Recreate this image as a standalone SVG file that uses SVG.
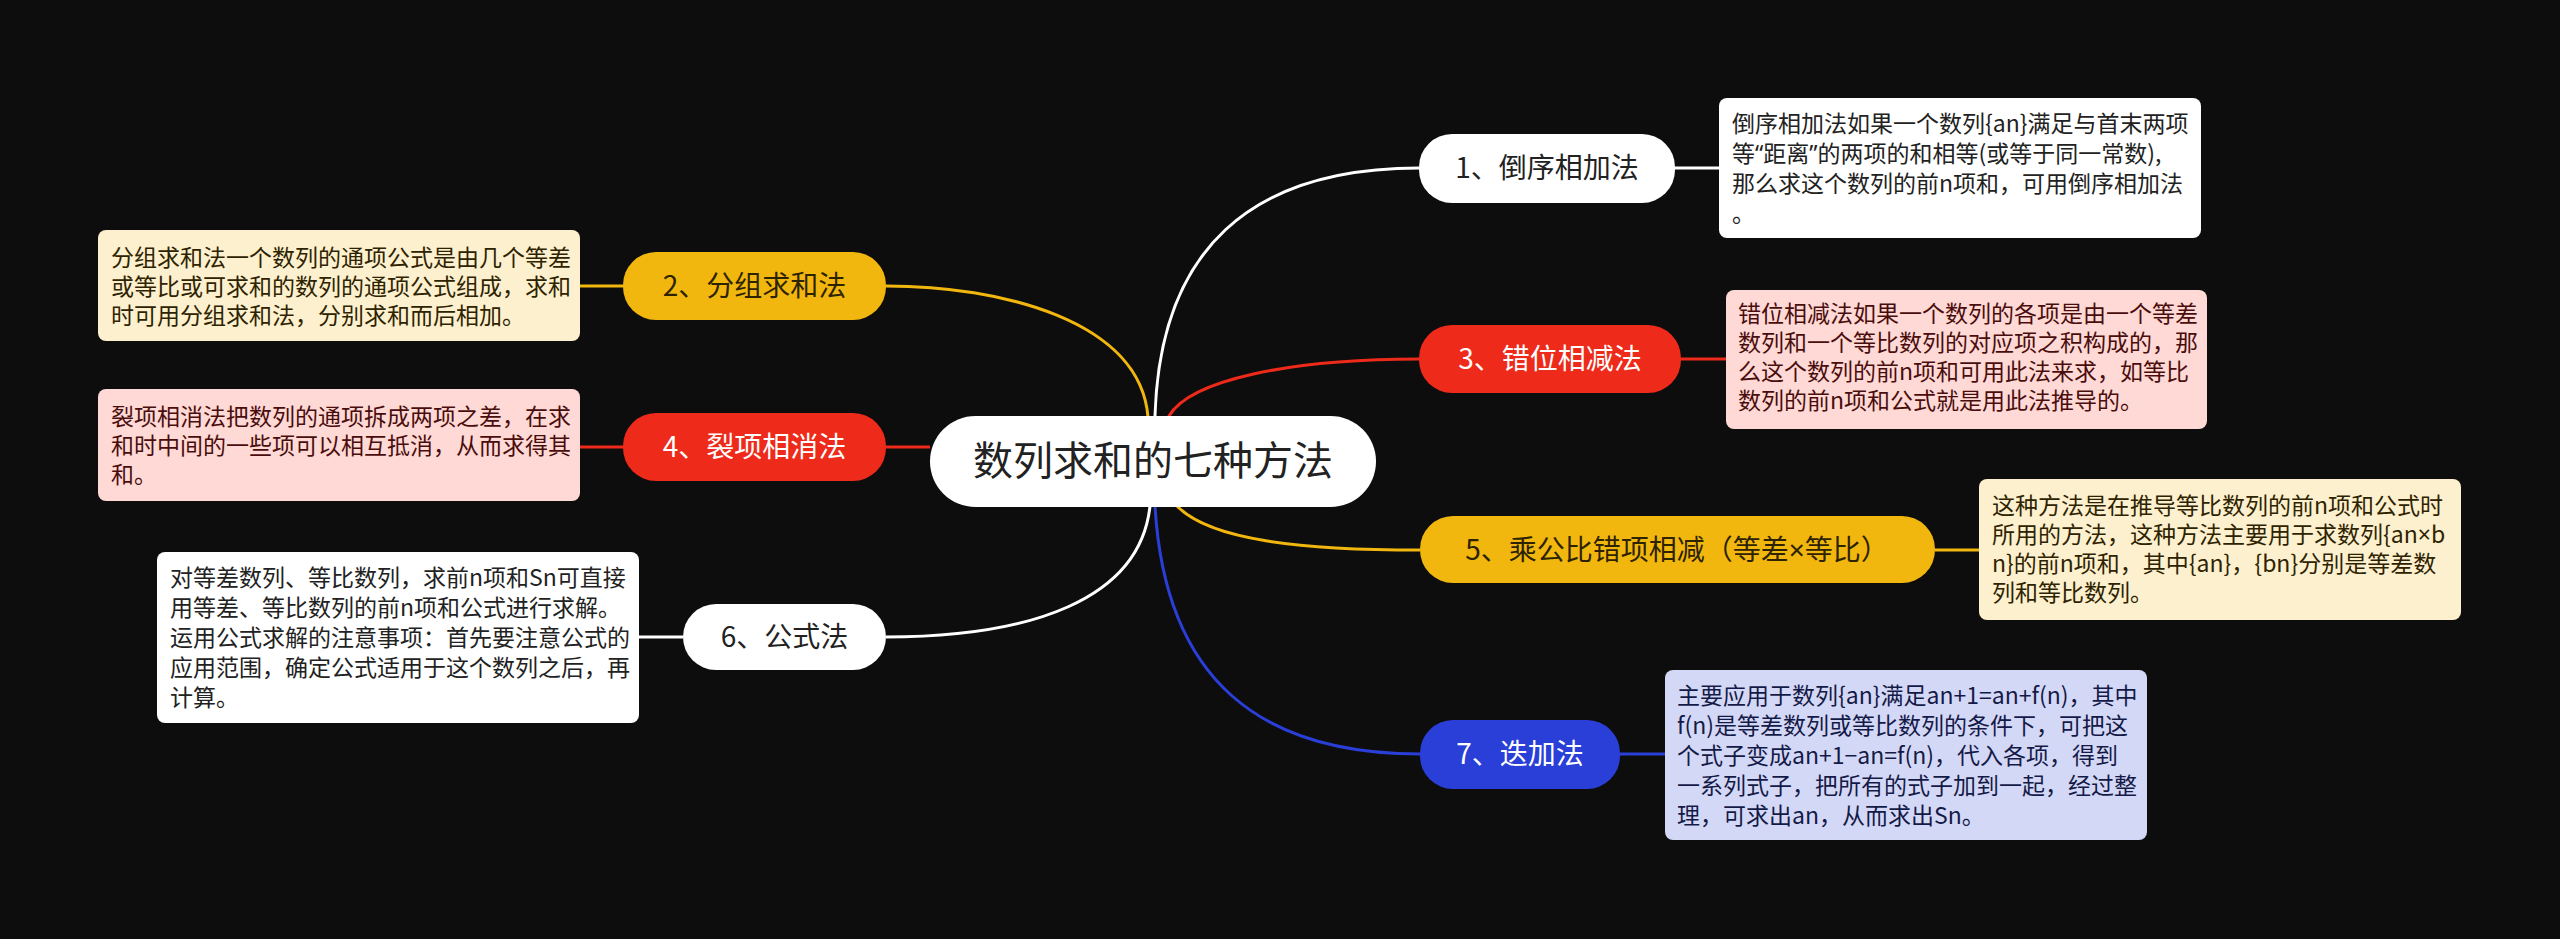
<svg xmlns="http://www.w3.org/2000/svg" width="2560" height="939" viewBox="0 0 2560 939">
<style>
text{font-family:"Noto Sans CJK SC","Noto Sans",sans-serif;}
.lat{font-family:"Noto Sans","Liberation Sans",sans-serif;}
.conn{fill:none;stroke-width:3;}
.w{stroke:#ffffff;}
.y{stroke:#F2B70F;}
.r{stroke:#EE2A1A;}
.b{stroke:#2A3ED8;}
.node-t{font-size:28px;text-anchor:middle;}
.box-t{font-size:23px;}
</style>
<rect x="0" y="0" width="2560" height="939" fill="#0d0d0d"/>
<g id="connectors">
  <path class="conn w" d="M1155,445 L1155,416 C1160,250 1250,168 1419,168"/>
  <path class="conn r" d="M1169,445 L1169,416 C1190,380 1290,359 1419,359"/>
  <path class="conn y" d="M1177,480 L1177,506 C1210,540 1300,550 1420,550"/>
  <path class="conn b" d="M1155,480 L1155,506 C1165,680 1260,754 1420,754"/>
  <path class="conn y" d="M1148,445 L1148,417 C1140,320 1000,286 886,286"/>
  <path class="conn r" d="M930,447 L886,447"/>
  <path class="conn w" d="M1150,480 L1150,506 C1140,600 1030,637 886,637"/>
  <path class="conn w" d="M1675,168 L1719,168"/>
  <path class="conn r" d="M1681,359 L1726,359"/>
  <path class="conn y" d="M1935,550 L1979,550"/>
  <path class="conn b" d="M1620,754 L1665,754"/>
  <path class="conn y" d="M623,286 L580,286"/>
  <path class="conn r" d="M623,447 L580,447"/>
  <path class="conn w" d="M683,637 L639,637"/>
</g>
<g id="root">
  <rect x="930" y="416" width="446" height="91" rx="45.5" fill="#ffffff"/>
  <text x="1153" y="475" font-size="40" text-anchor="middle" fill="#222222">数列求和的七种方法</text>
</g>
<g id="n1">
  <rect x="1419" y="134" width="256" height="69" rx="33" fill="#ffffff"/>
  <text class="node-t" x="1547" y="178" fill="#222222">1、倒序相加法</text>
</g>
<g id="n3">
  <rect x="1419" y="325" width="262" height="68" rx="33" fill="#EE2A1A"/>
  <text class="node-t" x="1550" y="369" fill="#ffffff">3、错位相减法</text>
</g>
<g id="n5">
  <rect x="1420" y="516" width="515" height="67" rx="33" fill="#F2B70F"/>
  <text class="node-t" x="1677" y="560" fill="#2e2300">5、乘公比错项相减（等差<tspan class="lat">×</tspan>等比）</text>
</g>
<g id="n7">
  <rect x="1420" y="720" width="200" height="69" rx="33" fill="#2A3ED8"/>
  <text class="node-t" x="1520" y="764" fill="#ffffff">7、迭加法</text>
</g>
<g id="n2">
  <rect x="623" y="252" width="263" height="68" rx="33" fill="#F2B70F"/>
  <text class="node-t" x="754.5" y="296" fill="#2e2300">2、分组求和法</text>
</g>
<g id="n4">
  <rect x="623" y="413" width="263" height="68" rx="33" fill="#EE2A1A"/>
  <text class="node-t" x="754.5" y="457" fill="#ffffff">4、裂项相消法</text>
</g>
<g id="n6">
  <rect x="683" y="604" width="203" height="66" rx="33" fill="#ffffff"/>
  <text class="node-t" x="784.5" y="647" fill="#222222">6、公式法</text>
</g>
<g id="b1">
  <rect x="1719" y="98" width="482" height="140" rx="8" fill="#ffffff"/>
  <text class="box-t" fill="#222222">
    <tspan x="1732" y="132">倒序相加法如果一个数列{an}满足与首末两项</tspan>
    <tspan x="1732" y="162">等<tspan class="lat">“</tspan>距离<tspan class="lat">”</tspan>的两项的和相等(或等于同一常数),</tspan>
    <tspan x="1732" y="192">那么求这个数列的前n项和，可用倒序相加法</tspan>
    <tspan x="1732" y="222">。</tspan>
  </text>
</g>
<g id="b3">
  <rect x="1726" y="290" width="481" height="139" rx="8" fill="#FFD9D5"/>
  <text class="box-t" fill="#4a0d0d">
    <tspan x="1738" y="322">错位相减法如果一个数列的各项是由一个等差</tspan>
    <tspan x="1738" y="351">数列和一个等比数列的对应项之积构成的，那</tspan>
    <tspan x="1738" y="380">么这个数列的前n项和可用此法来求，如等比</tspan>
    <tspan x="1738" y="409">数列的前n项和公式就是用此法推导的。</tspan>
  </text>
</g>
<g id="b5">
  <rect x="1979" y="479" width="482" height="141" rx="8" fill="#FDF0CF"/>
  <text class="box-t" fill="#2e2300">
    <tspan x="1992" y="514">这种方法是在推导等比数列的前n项和公式时</tspan>
    <tspan x="1992" y="543">所用的方法，这种方法主要用于求数列{an<tspan class="lat">×</tspan>b</tspan>
    <tspan x="1992" y="572">n}的前n项和，其中{an}，{bn}分别是等差数</tspan>
    <tspan x="1992" y="601">列和等比数列。</tspan>
  </text>
</g>
<g id="b7">
  <rect x="1665" y="670" width="482" height="170" rx="8" fill="#D4D8F7"/>
  <text class="box-t" fill="#141a47">
    <tspan x="1677" y="704">主要应用于数列{an}满足an+1=an+f(n)，其中</tspan>
    <tspan x="1677" y="734">f(n)是等差数列或等比数列的条件下，可把这</tspan>
    <tspan x="1677" y="764">个式子变成an+1−an=f(n)，代入各项，得到</tspan>
    <tspan x="1677" y="794">一系列式子，把所有的式子加到一起，经过整</tspan>
    <tspan x="1677" y="824">理，可求出an，从而求出Sn。</tspan>
  </text>
</g>
<g id="b2">
  <rect x="98" y="230" width="482" height="111" rx="8" fill="#FDF0CF"/>
  <text class="box-t" fill="#2e2300">
    <tspan x="111" y="266">分组求和法一个数列的通项公式是由几个等差</tspan>
    <tspan x="111" y="295">或等比或可求和的数列的通项公式组成，求和</tspan>
    <tspan x="111" y="324">时可用分组求和法，分别求和而后相加。</tspan>
  </text>
</g>
<g id="b4">
  <rect x="98" y="389" width="482" height="112" rx="8" fill="#FFD9D5"/>
  <text class="box-t" fill="#4a0d0d">
    <tspan x="111" y="425">裂项相消法把数列的通项拆成两项之差，在求</tspan>
    <tspan x="111" y="454">和时中间的一些项可以相互抵消，从而求得其</tspan>
    <tspan x="111" y="483">和。</tspan>
  </text>
</g>
<g id="b6">
  <rect x="157" y="552" width="482" height="171" rx="8" fill="#ffffff"/>
  <text class="box-t" fill="#222222">
    <tspan x="170" y="586">对等差数列、等比数列，求前n项和Sn可直接</tspan>
    <tspan x="170" y="616">用等差、等比数列的前n项和公式进行求解。</tspan>
    <tspan x="170" y="646">运用公式求解的注意事项：首先要注意公式的</tspan>
    <tspan x="170" y="676">应用范围，确定公式适用于这个数列之后，再</tspan>
    <tspan x="170" y="706">计算。</tspan>
  </text>
</g>
</svg>
